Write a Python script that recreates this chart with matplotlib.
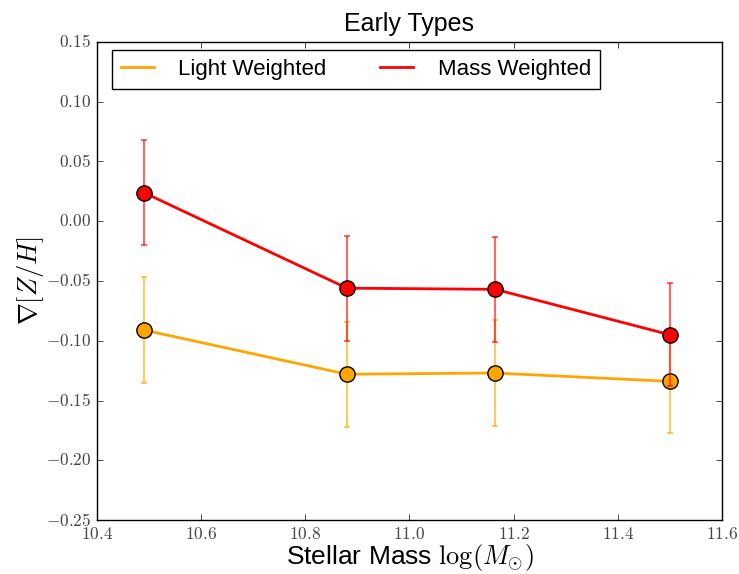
import numpy as np
import matplotlib
matplotlib.use('Agg')
import matplotlib.pyplot as plt
from matplotlib.ticker import FuncFormatter, MultipleLocator

plt.style.use('classic')
plt.rcParams['mathtext.fontset'] = 'cm'
plt.rcParams['font.family'] = ['Liberation Sans', 'DejaVu Sans']

# stellar mass bins
mass = [10.49, 10.88, 11.165, 11.50]

# metallicity gradients
light_grad = [-0.091, -0.128, -0.127, -0.134]
light_err = [0.044, 0.044, 0.044, 0.043]
mass_grad = [0.024, -0.056, -0.057, -0.095]
mass_err = [0.044, 0.044, 0.044, 0.043]

fig = plt.figure(figsize=(7.39, 5.74), dpi=100, facecolor='white')
ax = fig.add_axes([0.131, 0.094, 0.846, 0.833])

series = [
	(light_grad, light_err, 'orange', 'Light Weighted'),
	(mass_grad, mass_err, 'red', 'Mass Weighted'),
]

for vals, errs, col, lab in series:
	ax.errorbar(mass, vals, yerr=errs, fmt='none', ecolor=col, alpha=0.6, elinewidth=1.5, capsize=2, capthick=1.5)
	ax.plot(mass, vals, '-', color=col, lw=2, label=lab)
	ax.plot(mass, vals, 'o', color=col, markersize=11, markeredgecolor='k', markeredgewidth=1)

ax.set_xlim(10.4, 11.6)
ax.set_ylim(-0.25, 0.15)
ax.xaxis.set_major_locator(MultipleLocator(0.2))
ax.yaxis.set_major_locator(MultipleLocator(0.05))
fmt1 = FuncFormatter(lambda v, p: r'$%.1f$' % v)
fmt2 = FuncFormatter(lambda v, p: r'$%.2f$' % (0.0 if abs(v) < 1e-9 else v))
ax.xaxis.set_major_formatter(fmt1)
ax.yaxis.set_major_formatter(fmt2)
ax.tick_params(labelsize=12.5, colors='k')
for lbl in ax.get_xticklabels() + ax.get_yticklabels():
	lbl.set_color('#444444')

ax.set_title('Early Types', fontsize=18, pad=8)
ax.set_xlabel(r'Stellar Mass $\log(M_{\odot})$', fontsize=19, labelpad=0)
ax.set_ylabel(r'$\nabla[Z/H]$', fontsize=19, labelpad=0)

leg = ax.legend(loc='upper left', bbox_to_anchor=(0.024, 0.983), borderaxespad=0, ncol=2, fontsize=16,
	handlelength=1.5, handletextpad=1.1, columnspacing=2.4, borderpad=0.4, fancybox=False, numpoints=1)
leg.get_frame().set_edgecolor('k')

fig.savefig('out.png', dpi=100, facecolor='white')
